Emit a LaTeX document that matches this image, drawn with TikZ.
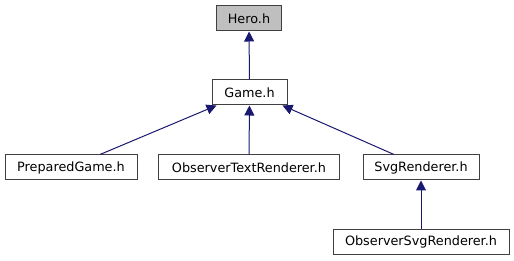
\documentclass[tikz,border=0pt]{standalone}
\usepackage{fontspec}
\setmainfont{DejaVu Sans}
\usetikzlibrary{arrows.meta}
\definecolor{edgeblue}{RGB}{25,25,112}

\begin{document}
\begin{tikzpicture}
[x=1pt,y=-1pt,%
  every node/.style={shape=rectangle,draw=black!75,line width=1pt,fill=white,
    minimum height=25pt,inner sep=0pt,font=\fontsize{12.8}{14}\selectfont},%
  dep/.style={draw=edgeblue,line width=1pt,
    {Triangle[length=10pt,width=10pt]}-}]
\useasboundingbox (0,0) rectangle (514,261);
% header and the files that include it
\node[fill=black!25,minimum width=65pt] (hero) at (249,18.5) {Hero.h};
\node[minimum width=75pt] (game) at (249.5,92.5) {Game.h};
\node[minimum width=132pt] (prepared) at (71,167.5) {PreparedGame.h};
\node[minimum width=181pt] (textrend) at (249,167.5) {ObserverTextRenderer.h};
\node[minimum width=116pt] (svgrend) at (421,167.5) {SvgRenderer.h};
\node[minimum width=176pt] (svgobs) at (421,242) {ObserverSvgRenderer.h};
% include edges
\draw[dep] (hero) -- (game);
\draw[dep] ([xshift=-33pt]game.south) -- ([xshift=29pt]prepared.north);
\draw[dep] (game) -- (textrend);
\draw[dep] ([xshift=33pt]game.south) -- ([xshift=-27pt]svgrend.north);
\draw[dep] (svgrend) -- (svgobs);
\end{tikzpicture}
\end{document}
